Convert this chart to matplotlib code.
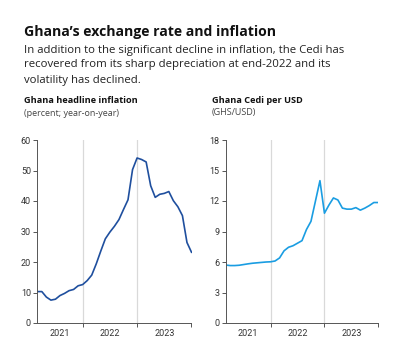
import matplotlib.pyplot as plt

# monthly data, Feb 2021 .. Dec 2023 (index 2..36)
months = list(range(2, 37))
inflation = [10.3, 10.3, 8.5, 7.5, 7.8, 9.0, 9.7, 10.6, 11.0, 12.2, 12.6,
             13.9, 15.7, 19.4, 23.6, 27.6, 29.8, 31.7, 33.9, 37.2, 40.4, 50.3, 54.1,
             53.6, 52.8, 45.0, 41.2, 42.2, 42.5, 43.1, 40.1, 38.1, 35.2, 26.4, 23.2]
cedi = [5.7, 5.65, 5.65, 5.68, 5.75, 5.82, 5.88, 5.92, 5.96, 6.0, 6.02,
        6.1, 6.4, 7.1, 7.45, 7.6, 7.85, 8.1, 9.2, 10.0, 12.0, 14.0, 10.8,
        11.6, 12.3, 12.1, 11.3, 11.2, 11.2, 11.35, 11.1, 11.3, 11.55, 11.85, 11.85]
year_labels = ['2021', '2022', '2023']
year_centers = [7, 18, 30]
year_bounds = [12, 24]

plt.rcParams['font.family'] = ['Open Sans', 'DejaVu Sans']

fig = plt.figure(figsize=(4.01, 3.52), dpi=100)
fig.patch.set_facecolor('white')

fig.text(24 / 401, 1 - 32 / 352, 'Ghana\u2019s exchange rate and inflation',
         fontsize=10.1, fontweight='bold', color='#111111', va='center')
fig.text(24 / 401, 1 - 50 / 352, 'In addition to the significant decline in inflation, the Cedi has',
         fontsize=8.2, color='#222222', va='center')
fig.text(24 / 401, 1 - 65 / 352, 'recovered from its sharp depreciation at end-2022 and its',
         fontsize=8.2, color='#222222', va='center')
fig.text(24 / 401, 1 - 80 / 352, 'volatility has declined.',
         fontsize=8.2, color='#222222', va='center')
fig.text(24 / 401, 1 - 101 / 352, 'Ghana headline inflation',
         fontsize=6.6, fontweight='bold', color='#111111', va='center')
fig.text(24 / 401, 1 - 113 / 352, '(percent; year-on-year)',
         fontsize=6.5, color='#444444', va='center')
fig.text(212 / 401, 1 - 101 / 352, 'Ghana Cedi per USD',
         fontsize=6.6, fontweight='bold', color='#111111', va='center')
fig.text(212 / 401, 1 - 113 / 352, '(GHS/USD)',
         fontsize=6.5, color='#444444', va='center')

bottom = 1 - 323 / 352
height = (323 - 140) / 352
ax1 = fig.add_axes([37.3 / 401, bottom, (191.5 - 37.3) / 401, height])
ax2 = fig.add_axes([225.7 / 401, bottom, (378.3 - 225.7) / 401, height])

ax1.plot(months, inflation, color='#1f4f9e', lw=1.2)
ax2.plot(months, cedi, color='#1a9de2', lw=1.2)

for ax, ymax, step in [(ax1, 60, 10), (ax2, 18, 3)]:
    ax.set_xlim(2, 36)
    ax.set_ylim(0, ymax)
    ax.set_yticks(range(0, ymax + 1, step))
    for xb in year_bounds:
        ax.axvline(xb, color='#d9d9d9', lw=0.9, zorder=0)
    ax.set_xticks([12, 24, 36])
    ax.set_xticklabels([])
    ax.set_xticks(year_centers, minor=True)
    ax.set_xticklabels(year_labels, minor=True)
    ax.tick_params(axis='x', which='minor', length=0, pad=4,
                   labelsize=6.5, labelcolor='#333333')
    ax.tick_params(axis='x', which='major', length=3, width=0.7, color='#555555')
    ax.tick_params(axis='y', length=3, width=0.7, color='#555555',
                   labelsize=6.5, labelcolor='#333333', pad=1.5)
    for s in ['top', 'right']:
        ax.spines[s].set_visible(False)
    for s in ['left', 'bottom']:
        ax.spines[s].set_color('#555555')
        ax.spines[s].set_linewidth(0.7)
    for lab in ax.get_yticklabels() + ax.get_xticklabels(minor=True):
        lab.set_family(['Roboto', 'DejaVu Sans'])

fig.savefig('out.png', dpi=100)
